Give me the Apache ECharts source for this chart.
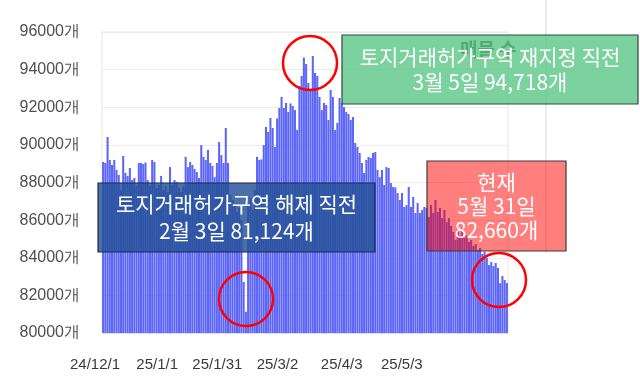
<!DOCTYPE html>
<html>
<head>
<meta charset="utf-8">
<script src="https://cdn.jsdelivr.net/npm/echarts@6/dist/echarts.min.js"></script>
<style>html,body{margin:0;padding:0;background:#fff}#c{width:640px;height:384px}</style>
</head>
<body>
<div id="c"></div>
<script>
// Daily listing counts, 2024-12-01 .. 2025-05-31
const startDate = [2024, 12, 1];
const dayCount = 182;
const listings = [
  89090, 89040, 90420, 89200, 88930, 89200, 88670, 88400, 87600, 89410,
  88510, 88350, 88770, 88130, 88240, 87810, 89040, 89040, 88980, 89060,
  88130, 87810, 89200, 89090, 87710, 87870, 88350, 87600, 87810, 87500,
  88820, 87870, 88130, 88030, 87710, 87500, 87810, 89360, 88820, 89090,
  88930, 88720, 88560, 88240, 89990, 89360, 89200, 89730, 89040, 88880,
  88290, 89040, 90150, 89460, 89040, 90900, 89040, 87340, 87070, 86800,
  86430, 86650, 86010, 82710, 81124, 86800, 87180, 86540, 87600, 89360,
  89200, 89230, 89990, 90950, 90690, 91430, 90900, 89890, 91400, 91960,
  92550, 91960, 92230, 91750, 92200, 92070, 91850, 90790, 93130, 93660,
  94650, 94300, 93290, 92920, 94718, 93820, 93660, 92550, 91850, 92230,
  92120, 91320, 92920, 92550, 90790, 91160, 92490, 92230, 92010, 91750,
  91640, 91320, 91480, 90100, 89890, 89570, 89040, 88510, 89200, 89360,
  89300, 89570, 89620, 88670, 88290, 88670, 87870, 88820, 88770, 87970,
  87760, 87740, 87440, 87070, 87440, 86700, 86800, 87760, 86700, 87230,
  86380, 86910, 86380, 86540, 86700, 86650, 86170, 86800, 86380, 87070,
  86430, 86650, 86110, 86540, 85900, 86110, 85690, 85370, 84940, 85480,
  85160, 85580, 85050, 85160, 84840, 84940, 84620, 84730, 84410, 84520,
  84200, 84310, 83990, 83610, 83770, 83560, 83720, 83460, 82650, 83030,
  82820, 82660
];
const tickLabels = ['24/12/1', '25/1/1', '25/1/31', '25/3/2', '25/4/3', '25/5/3'];
const yMin = 80000, yMax = 96000, yStep = 2000;

const dates = [];
{
  const d = new Date(startDate[0], startDate[1] - 1, startDate[2]);
  for (let i = 0; i < dayCount; i++) {
    dates.push(String(d.getFullYear() % 100) + '/' + (d.getMonth() + 1) + '/' + d.getDate());
    d.setDate(d.getDate() + 1);
  }
}

const FONT = 'Liberation Sans';
const KFONT = 'Noto Sans CJK KR';
const chart = echarts.init(document.getElementById('c'), null, {renderer: 'canvas'});

function box(x, y, w, h, fill, stroke, text, lineHeight) {
  return {
    type: 'group', z: 100,
    children: [
      {type: 'rect', shape: {x: x, y: y, width: w, height: h},
       style: {fill: fill, stroke: stroke, lineWidth: 1.2}, z: 100},
      {type: 'text', z: 101,
       style: {text: text, x: x + w / 2, y: y + h / 2, align: 'center', verticalAlign: 'middle',
               fill: '#ffffff', fontSize: 21, fontFamily: KFONT, fontWeight: 'normal',
               lineHeight: lineHeight}}
    ]
  };
}
function ring(cx, cy, r) {
  return {type: 'circle', z: 110, shape: {cx: cx, cy: cy, r: r},
          style: {fill: 'none', stroke: '#ff0000', lineWidth: 2.5}};
}

chart.setOption({
  animation: false,
  title: {text: '매물 수', left: 455, top: 35,
          textStyle: {fontSize: 19, fontWeight: 'bold', color: '#1e1e1e', fontFamily: KFONT}},
  grid: [
    {left: 102, right: 132, top: 32, bottom: 51, show: true, borderColor: '#e6e6e6', borderWidth: 1},
    {left: 95, width: 363, top: 32, bottom: 51}
  ],
  xAxis: [
    {type: 'category', gridIndex: 0, data: dates, boundaryGap: true,
     axisLine: {show: true, lineStyle: {color: '#e0e0e0'}}, axisTick: {show: false},
     axisLabel: {show: false}},
    {type: 'category', gridIndex: 1, data: dates, boundaryGap: false,
     axisLine: {show: false}, axisTick: {show: false}, splitLine: {show: false},
     axisLabel: {show: true, margin: 24, color: '#3a3a3a', fontSize: 15, fontFamily: FONT,
                 interval: function (i, v) { return tickLabels.indexOf(v) >= 0; }}}
  ],
  yAxis: [
    {type: 'value', gridIndex: 0, min: yMin, max: yMax, interval: yStep,
     axisLine: {show: false}, axisTick: {show: false},
     splitLine: {show: true, lineStyle: {color: '#ececec', width: 1}},
     axisLabel: {margin: 22, color: '#505050', fontSize: 16, fontFamily: FONT,
                 formatter: function (v) { return v + '개'; }}},
    {type: 'value', gridIndex: 1, min: yMin, max: yMax, show: false}
  ],
  series: [
    {type: 'bar', xAxisIndex: 0, yAxisIndex: 0, data: listings,
     barCategoryGap: '8%', itemStyle: {color: '#5d66f7'}, z: 2}
  ],
  graphic: [
    {type: 'line', z: 50, shape: {x1: 546, y1: 0, x2: 546, y2: 253},
     style: {stroke: '#d9d9d9', lineWidth: 1}},
    box(98, 183, 277, 69, 'rgba(35,80,150,0.82)', '#1c2c48',
        '토지거래허가구역 해제 직전\n2월 3일 81,124개', 27),
    box(342, 35, 296, 69, 'rgba(95,200,137,0.82)', '#2e4a3c',
        '토지거래허가구역 재지정 직전\n3월 5일 94,718개', 25),
    box(427, 161, 139, 90, 'rgba(255,0,0,0.5)', '#3a3a3a',
        '현재\n5월 31일\n82,660개', 24),
    ring(246, 299, 27),
    ring(310, 63, 27),
    ring(499, 280, 27)
  ]
});
</script>
</body>
</html>
